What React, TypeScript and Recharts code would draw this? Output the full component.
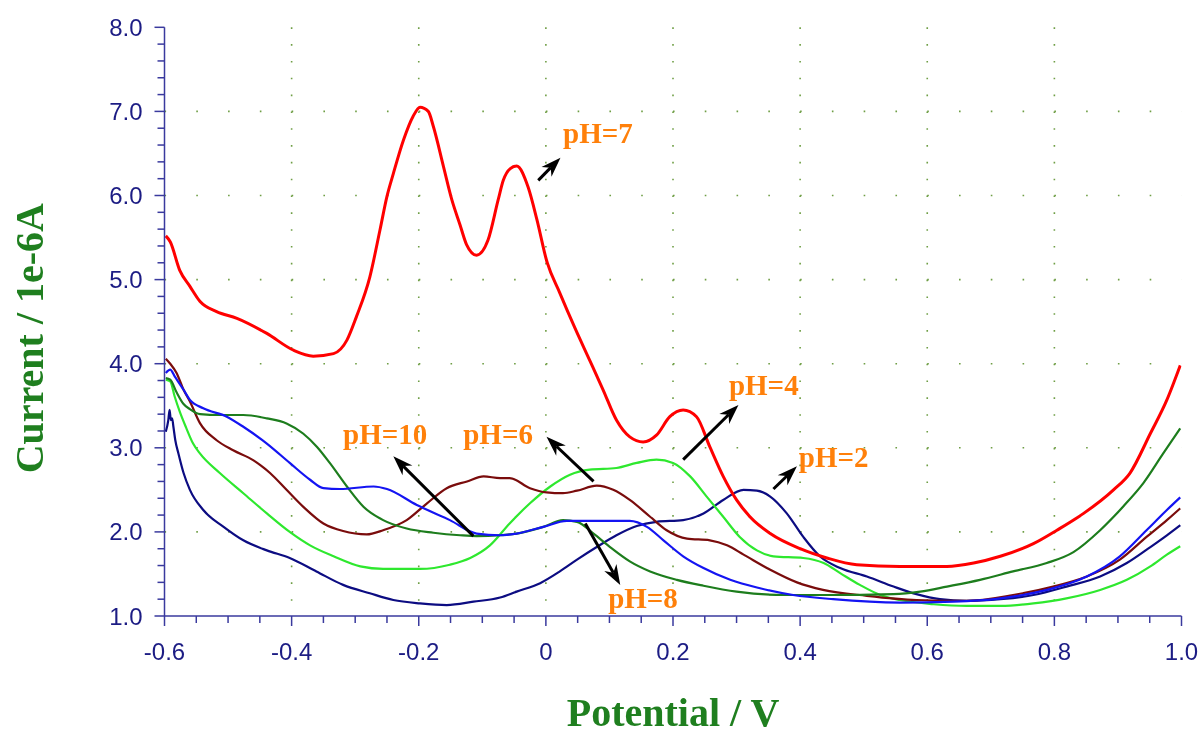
import { LineChart, Line, XAxis, YAxis, CartesianGrid, ReferenceLine, ReferenceDot } from 'recharts';

// potential (V), current (1e-6 A)
const ph2: [number, number][] = [
  [-0.598, 3.19], [-0.594, 3.33], [-0.592, 3.45], [-0.59, 3.33], [-0.588, 3.35], [-0.586, 3.25],
  [-0.583, 3.09], [-0.578, 2.93], [-0.57, 2.7], [-0.56, 2.5], [-0.539, 2.26], [-0.507, 2.06],
  [-0.476, 1.9], [-0.439, 1.78], [-0.403, 1.69], [-0.361, 1.53], [-0.319, 1.37], [-0.277, 1.27],
  [-0.24, 1.19], [-0.198, 1.15], [-0.156, 1.13], [-0.114, 1.17], [-0.072, 1.22], [-0.046, 1.29],
  [-0.009, 1.39], [0.022, 1.53], [0.049, 1.67], [0.08, 1.82], [0.111, 1.96], [0.143, 2.07],
  [0.174, 2.12], [0.216, 2.14], [0.248, 2.22], [0.279, 2.38], [0.311, 2.5], [0.332, 2.49],
  [0.353, 2.42], [0.379, 2.22], [0.405, 1.94], [0.431, 1.71], [0.463, 1.57], [0.505, 1.47],
  [0.547, 1.35], [0.583, 1.26], [0.62, 1.2], [0.662, 1.18], [0.715, 1.2], [0.767, 1.25],
  [0.819, 1.35], [0.872, 1.47], [0.914, 1.63], [0.951, 1.82], [0.977, 1.96], [0.998, 2.08],
];

const ph4: [number, number][] = [
  [-0.598, 3.81], [-0.591, 3.79], [-0.584, 3.61], [-0.576, 3.43], [-0.566, 3.24], [-0.555, 3.05],
  [-0.544, 2.93], [-0.513, 2.7], [-0.476, 2.46], [-0.439, 2.22], [-0.403, 2.0], [-0.371, 1.84],
  [-0.334, 1.71], [-0.292, 1.59], [-0.256, 1.56], [-0.198, 1.56], [-0.151, 1.61], [-0.119, 1.69],
  [-0.088, 1.84], [-0.057, 2.1], [-0.025, 2.34], [0.007, 2.54], [0.038, 2.68], [0.069, 2.74],
  [0.111, 2.76], [0.143, 2.82], [0.174, 2.86], [0.2, 2.82], [0.227, 2.66], [0.253, 2.42],
  [0.279, 2.18], [0.305, 1.94], [0.332, 1.78], [0.358, 1.71], [0.405, 1.69], [0.437, 1.63],
  [0.463, 1.51], [0.494, 1.37], [0.526, 1.25], [0.557, 1.19], [0.61, 1.14], [0.662, 1.12],
  [0.715, 1.12], [0.767, 1.15], [0.819, 1.21], [0.872, 1.31], [0.914, 1.43], [0.951, 1.59],
  [0.977, 1.73], [0.998, 1.83],
];

const ph6: [number, number][] = [
  [-0.598, 4.06], [-0.591, 4.0], [-0.581, 3.89], [-0.57, 3.69], [-0.56, 3.55], [-0.544, 3.29],
  [-0.518, 3.09], [-0.492, 2.97], [-0.46, 2.85], [-0.434, 2.7], [-0.408, 2.5], [-0.382, 2.3],
  [-0.35, 2.1], [-0.319, 2.01], [-0.282, 1.97], [-0.256, 2.02], [-0.219, 2.14], [-0.187, 2.34],
  [-0.156, 2.52], [-0.124, 2.6], [-0.098, 2.66], [-0.072, 2.64], [-0.057, 2.64], [-0.025, 2.52],
  [0.001, 2.47], [0.027, 2.46], [0.049, 2.49], [0.08, 2.55], [0.106, 2.5], [0.132, 2.38],
  [0.164, 2.18], [0.19, 2.02], [0.222, 1.92], [0.258, 1.9], [0.285, 1.84], [0.311, 1.73],
  [0.353, 1.55], [0.395, 1.4], [0.436, 1.31], [0.505, 1.24], [0.583, 1.19], [0.662, 1.18],
  [0.735, 1.25], [0.798, 1.35], [0.851, 1.47], [0.903, 1.67], [0.945, 1.94], [0.977, 2.14],
  [0.998, 2.28],
];

const ph7: [number, number][] = [
  [-0.598, 5.52], [-0.591, 5.45], [-0.576, 5.11], [-0.56, 4.92], [-0.544, 4.74], [-0.518, 4.62],
  [-0.486, 4.54], [-0.439, 4.36], [-0.397, 4.16], [-0.366, 4.09], [-0.334, 4.12], [-0.313, 4.28],
  [-0.298, 4.56], [-0.277, 5.03], [-0.261, 5.59], [-0.25, 5.99], [-0.24, 6.26], [-0.224, 6.66],
  [-0.209, 6.94], [-0.198, 7.05], [-0.185, 7.0], [-0.177, 6.82], [-0.161, 6.34], [-0.148, 5.95],
  [-0.135, 5.65], [-0.125, 5.42], [-0.109, 5.29], [-0.091, 5.47], [-0.075, 5.95], [-0.067, 6.18],
  [-0.056, 6.32], [-0.046, 6.35], [-0.028, 6.1], [-0.014, 5.71], [0.001, 5.23], [0.022, 4.84],
  [0.046, 4.42], [0.069, 4.04], [0.09, 3.69], [0.111, 3.33], [0.132, 3.13], [0.153, 3.07],
  [0.174, 3.15], [0.195, 3.37], [0.216, 3.45], [0.237, 3.37], [0.258, 3.01], [0.279, 2.66],
  [0.3, 2.38], [0.321, 2.18], [0.353, 1.98], [0.4, 1.8], [0.442, 1.69], [0.489, 1.61],
  [0.557, 1.59], [0.631, 1.59], [0.673, 1.63], [0.715, 1.71], [0.767, 1.86], [0.804, 2.02],
  [0.846, 2.22], [0.893, 2.5], [0.919, 2.7], [0.951, 3.17], [0.977, 3.57], [0.998, 3.98],
];

const ph8: [number, number][] = [
  [-0.598, 3.83], [-0.591, 3.81], [-0.581, 3.66], [-0.57, 3.52], [-0.56, 3.46], [-0.544, 3.4],
  [-0.513, 3.39], [-0.476, 3.39], [-0.439, 3.35], [-0.408, 3.29], [-0.382, 3.17], [-0.36, 3.01],
  [-0.34, 2.82], [-0.313, 2.54], [-0.287, 2.3], [-0.256, 2.14], [-0.219, 2.04], [-0.177, 1.99],
  [-0.135, 1.96], [-0.109, 1.95], [-0.072, 1.96], [-0.046, 1.98], [-0.004, 2.06], [0.027, 2.14],
  [0.049, 2.12], [0.075, 1.98], [0.101, 1.82], [0.132, 1.65], [0.164, 1.53], [0.206, 1.43],
  [0.248, 1.36], [0.3, 1.29], [0.374, 1.25], [0.442, 1.25], [0.547, 1.26], [0.589, 1.29],
  [0.631, 1.35], [0.683, 1.43], [0.735, 1.53], [0.788, 1.63], [0.83, 1.76], [0.872, 2.02],
  [0.908, 2.3], [0.94, 2.58], [0.971, 2.93], [0.998, 3.23],
];

const ph10: [number, number][] = [
  [-0.598, 3.89], [-0.591, 3.93], [-0.584, 3.85], [-0.57, 3.69], [-0.56, 3.57], [-0.539, 3.47],
  [-0.502, 3.37], [-0.476, 3.25], [-0.439, 3.05], [-0.403, 2.82], [-0.371, 2.62], [-0.35, 2.52],
  [-0.324, 2.51], [-0.271, 2.54], [-0.25, 2.51], [-0.203, 2.32], [-0.151, 2.14], [-0.109, 1.98],
  [-0.072, 1.96], [-0.046, 1.98], [-0.004, 2.06], [0.033, 2.13], [0.085, 2.13], [0.132, 2.13],
  [0.159, 2.06], [0.185, 1.9], [0.216, 1.71], [0.248, 1.57], [0.29, 1.43], [0.337, 1.33],
  [0.389, 1.25], [0.452, 1.2], [0.557, 1.16], [0.641, 1.17], [0.715, 1.21], [0.788, 1.31],
  [0.851, 1.47], [0.903, 1.71], [0.945, 2.02], [0.977, 2.26], [0.998, 2.41],
];

const xTicks = [
  -0.6, -0.55, -0.5, -0.45, -0.4, -0.35, -0.3, -0.25, -0.2, -0.15, -0.1, -0.05, 0,
  0.05, 0.1, 0.15, 0.2, 0.25, 0.3, 0.35, 0.4, 0.45, 0.5, 0.55, 0.6, 0.65, 0.7, 0.75, 0.8,
  0.85, 0.9, 0.95, 1.0,
];
const xMajor = [-0.6, -0.4, -0.2, 0, 0.2, 0.4, 0.6, 0.8, 1.0];
const xLabels = ['-0.6', '-0.4', '-0.2', '0', '0.2', '0.4', '0.6', '0.8', '1.0'];

const yTicks = [
  1, 1.2, 1.4, 1.6, 1.8, 2, 2.2, 2.4, 2.6, 2.8, 3, 3.2, 3.4, 3.6, 3.8, 4, 4.2, 4.4, 4.6, 4.8,
  5, 5.2, 5.4, 5.6, 5.8, 6, 6.2, 6.4, 6.6, 6.8, 7, 7.2, 7.4, 7.6, 7.8, 8,
];
const yMajor = [1, 2, 3, 4, 5, 6, 7, 8];
const yLabels = ['1.0', '2.0', '3.0', '4.0', '5.0', '6.0', '7.0', '8.0'];

// annotation: label text, arrow tail, arrow tip, label anchor (data coords)
const notes = [
  { text: 'pH=7', tail: [-0.012, 6.18], tip: [0.023, 6.45], at: [0.027, 6.62] },
  { text: 'pH=10', tail: [-0.114, 1.95], tip: [-0.24, 2.9], at: [-0.319, 3.05] },
  { text: 'pH=6', tail: [0.075, 2.6], tip: [0.001, 3.13], at: [-0.13, 3.05] },
  { text: 'pH=8', tail: [0.062, 2.1], tip: [0.117, 1.37], at: [0.098, 1.1] },
  { text: 'pH=4', tail: [0.216, 2.86], tip: [0.303, 3.51], at: [0.288, 3.63] },
  { text: 'pH=2', tail: [0.358, 2.51], tip: [0.395, 2.78], at: [0.398, 2.77] },
];

const AXIS = '#3a3a9e';
const TICK_TEXT = '#1c1c84';
const GRID = '#6f9e45';
const TITLE = '#1f7f1f';
const NOTE = '#ff800a';
const SERIF = '"Liberation Serif", "Times New Roman", serif';
const SANS = '"Liberation Sans", Arial, sans-serif';

const rows = (pts: [number, number][]) => pts.map(([v, i]) => ({ v, i }));
const near = (a: number, b: number) => Math.abs(a - b) < 1e-6;
const labelOf = (v: number, majors: number[], labels: string[]) => {
  const k = majors.findIndex((m) => near(m, v));
  return k >= 0 ? labels[k] : null;
};

const BottomTick = (p: any) => {
  const lab = labelOf(p.payload.value, xMajor, xLabels);
  return (
    <g>
      <line x1={p.x} x2={p.x} y1={p.y} y2={p.y + (lab ? 10 : 7)} stroke={AXIS} strokeWidth={1.5} />
      {lab && (
        <text x={p.x} y={p.y + 44} textAnchor="middle" fontFamily={SANS} fontSize={24} fill={TICK_TEXT}>
          {lab}
        </text>
      )}
    </g>
  );
};

const TopTick = (p: any) => {
  const major = labelOf(p.payload.value, xMajor, xLabels);
  return <line x1={p.x} x2={p.x} y1={p.y} y2={p.y - (major ? 11 : 5)} stroke={AXIS} strokeWidth={1.5} />;
};

const LeftTick = (p: any) => {
  const lab = labelOf(p.payload.value, yMajor, yLabels);
  return (
    <g>
      <line x1={p.x - (lab ? 10 : 7)} x2={p.x} y1={p.y} y2={p.y} stroke={AXIS} strokeWidth={1.5} />
      {lab && (
        <text x={p.x - 22} y={p.y + 8.5} textAnchor="end" fontFamily={SANS} fontSize={24} fill={TICK_TEXT}>
          {lab}
        </text>
      )}
    </g>
  );
};

const RightTick = (p: any) => {
  const major = labelOf(p.payload.value, yMajor, yLabels);
  return <line x1={p.x} x2={p.x + (major ? 8 : 6)} y1={p.y} y2={p.y} stroke={AXIS} strokeWidth={1.5} />;
};

const Arrow = (p: any) => {
  const { x1, y1, x2, y2 } = p;
  const a = Math.atan2(y2 - y1, x2 - x1);
  const c = Math.cos(a);
  const s = Math.sin(a);
  const L = 20;
  const W = 7;
  const bx = x2 - L * c;
  const by = y2 - L * s;
  const nx = x2 - L * 0.7 * c;
  const ny = y2 - L * 0.7 * s;
  return (
    <g>
      <line x1={x1} y1={y1} x2={nx} y2={ny} stroke="#000" strokeWidth={3} />
      <polygon
        points={`${x2},${y2} ${bx - s * W},${by + c * W} ${nx},${ny} ${bx + s * W},${by - c * W}`}
        fill="#000"
      />
    </g>
  );
};

const NoteText = (text: string) => (p: any) => (
  <text x={p.cx} y={p.cy} fontFamily={SERIF} fontWeight="bold" fontSize={29} fill={NOTE}>
    {text}
  </text>
);

const XTitle = (p: any) => {
  const vb = p.viewBox;
  return (
    <text x={vb.x + vb.width / 2} y={vb.y + 110} textAnchor="middle" fontFamily={SERIF} fontWeight="bold" fontSize={40} fill={TITLE}>
      Potential / V
    </text>
  );
};

const YTitle = (p: any) => {
  const vb = p.viewBox;
  const x = vb.x + 34.5;
  const y = vb.y + vb.height / 2 + 16.5;
  return (
    <text x={x} y={y} transform={`rotate(-90, ${x}, ${y})`} textAnchor="middle" fontFamily={SERIF} fontWeight="bold" fontSize={40} fill={TITLE}>
      Current / 1e-6A
    </text>
  );
};

const series = [
  { name: 'pH=2', pts: ph2, color: '#0c0c82', w: 2.2 },
  { name: 'pH=4', pts: ph4, color: '#2ee82e', w: 2.2 },
  { name: 'pH=6', pts: ph6, color: '#7a0c0c', w: 2.2 },
  { name: 'pH=8', pts: ph8, color: '#1d7d1d', w: 2.2 },
  { name: 'pH=10', pts: ph10, color: '#1414f2', w: 2.2 },
  { name: 'pH=7', pts: ph7, color: '#ff0000', w: 3 },
];

export default function App() {
  return (
    <div style={{ position: 'fixed', left: 8, top: 8, width: 1194, height: 727 }}>
      <style>{'html, body { overflow: hidden; } .recharts-surface { overflow: visible; }'}</style>
      <LineChart width={1194} height={727} margin={{ top: 19.3, right: 20.5, bottom: 0, left: 0.5 }}>
        <CartesianGrid horizontal vertical={false} horizontalValues={[2, 3, 4, 5, 6, 7]} stroke={GRID} strokeWidth={1.6} strokeDasharray="1.6 30.18" />
        <CartesianGrid horizontal={false} vertical verticalValues={[-0.4, -0.2, 0, 0.2, 0.4, 0.6, 0.8]} stroke={GRID} strokeWidth={1.6} strokeDasharray="1.6 15.22" />
        <XAxis
          type="number"
          dataKey="v"
          domain={[-0.6, 1]}
          allowDataOverflow
          ticks={xTicks}
          interval={0}
          height={119}
          tickSize={0}
          tickMargin={0}
          tickLine={false}
          tick={BottomTick}
          axisLine={{ stroke: AXIS, strokeWidth: 1.5 }}
          label={XTitle}
        />
        <XAxis
          xAxisId="top"
          orientation="top"
          type="number"
          dataKey="v"
          domain={[-0.6, 1]}
          allowDataOverflow
          ticks={xTicks}
          interval={0}
          height={0}
          tickSize={0}
          tickMargin={0}
          tickLine={false}
          tick={TopTick}
          axisLine={{ stroke: AXIS, strokeWidth: 1.5 }}
        />
        <YAxis
          type="number"
          domain={[1, 8]}
          allowDataOverflow
          ticks={yTicks}
          interval={0}
          width={156}
          tickSize={0}
          tickMargin={0}
          tickLine={false}
          tick={LeftTick}
          axisLine={{ stroke: AXIS, strokeWidth: 1.5 }}
          label={YTitle}
        />
        <YAxis
          yAxisId="right"
          orientation="right"
          type="number"
          domain={[1, 8]}
          allowDataOverflow
          ticks={yTicks}
          interval={0}
          width={0}
          tickSize={0}
          tickMargin={0}
          tickLine={false}
          tick={RightTick}
          axisLine={{ stroke: AXIS, strokeWidth: 1.5 }}
        />
        {series.map((s) => (
          <Line
            key={s.name}
            name={s.name}
            data={rows(s.pts)}
            dataKey="i"
            type="monotone"
            stroke={s.color}
            strokeWidth={s.w}
            dot={false}
            activeDot={false}
            isAnimationActive={false}
          />
        ))}
        {notes.map((n) => (
          <ReferenceLine
            key={'a' + n.text}
            segment={[{ x: n.tail[0], y: n.tail[1] }, { x: n.tip[0], y: n.tip[1] }]}
            ifOverflow="visible"
            shape={Arrow}
          />
        ))}
        {notes.map((n) => (
          <ReferenceDot key={'t' + n.text} x={n.at[0]} y={n.at[1]} r={1} ifOverflow="visible" shape={NoteText(n.text)} />
        ))}
      </LineChart>
    </div>
  );
}
